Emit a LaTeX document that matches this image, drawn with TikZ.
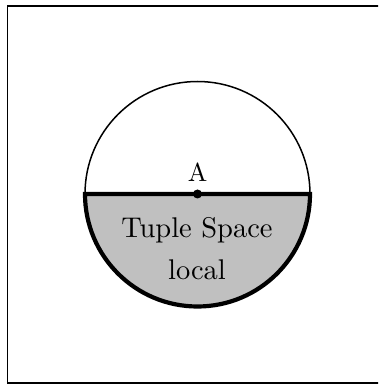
\documentclass[tikz,border=0pt]{standalone}
\begin{document}
\begin{tikzpicture}[x=1pt,y=1pt,
  frame/.style={draw=black,line width=1.6pt},
  upperarc/.style={draw=black,line width=1.5pt},
  lowerhalf/.style={draw=black,line width=4.2pt,fill={rgb,255:red,192;green,192;blue,192}},
  lbl/.style={anchor=base,inner sep=0pt}]
\useasboundingbox (0,0) rectangle (378,385);
\clip (0,0) rectangle (378,385);
\draw[frame] (7.5,2) rectangle (384.5,379);
\coordinate (O) at (197.5,191);
\draw[lowerhalf] (O) ++(-112.5,0) arc[start angle=180,end angle=360,radius=112.5] -- cycle;
\draw[upperarc] (O) ++(112.5,0) arc[start angle=0,end angle=180,radius=112.5];
\fill (O) circle (4.5);
\node[lbl,scale=2.6] (A) at (197.5,203) {A};
\node[lbl,scale=2.85] (ts) at (197,147) {Tuple Space};
\node[lbl,scale=2.85] (loc) at (197,105) {local};
\end{tikzpicture}
\end{document}
